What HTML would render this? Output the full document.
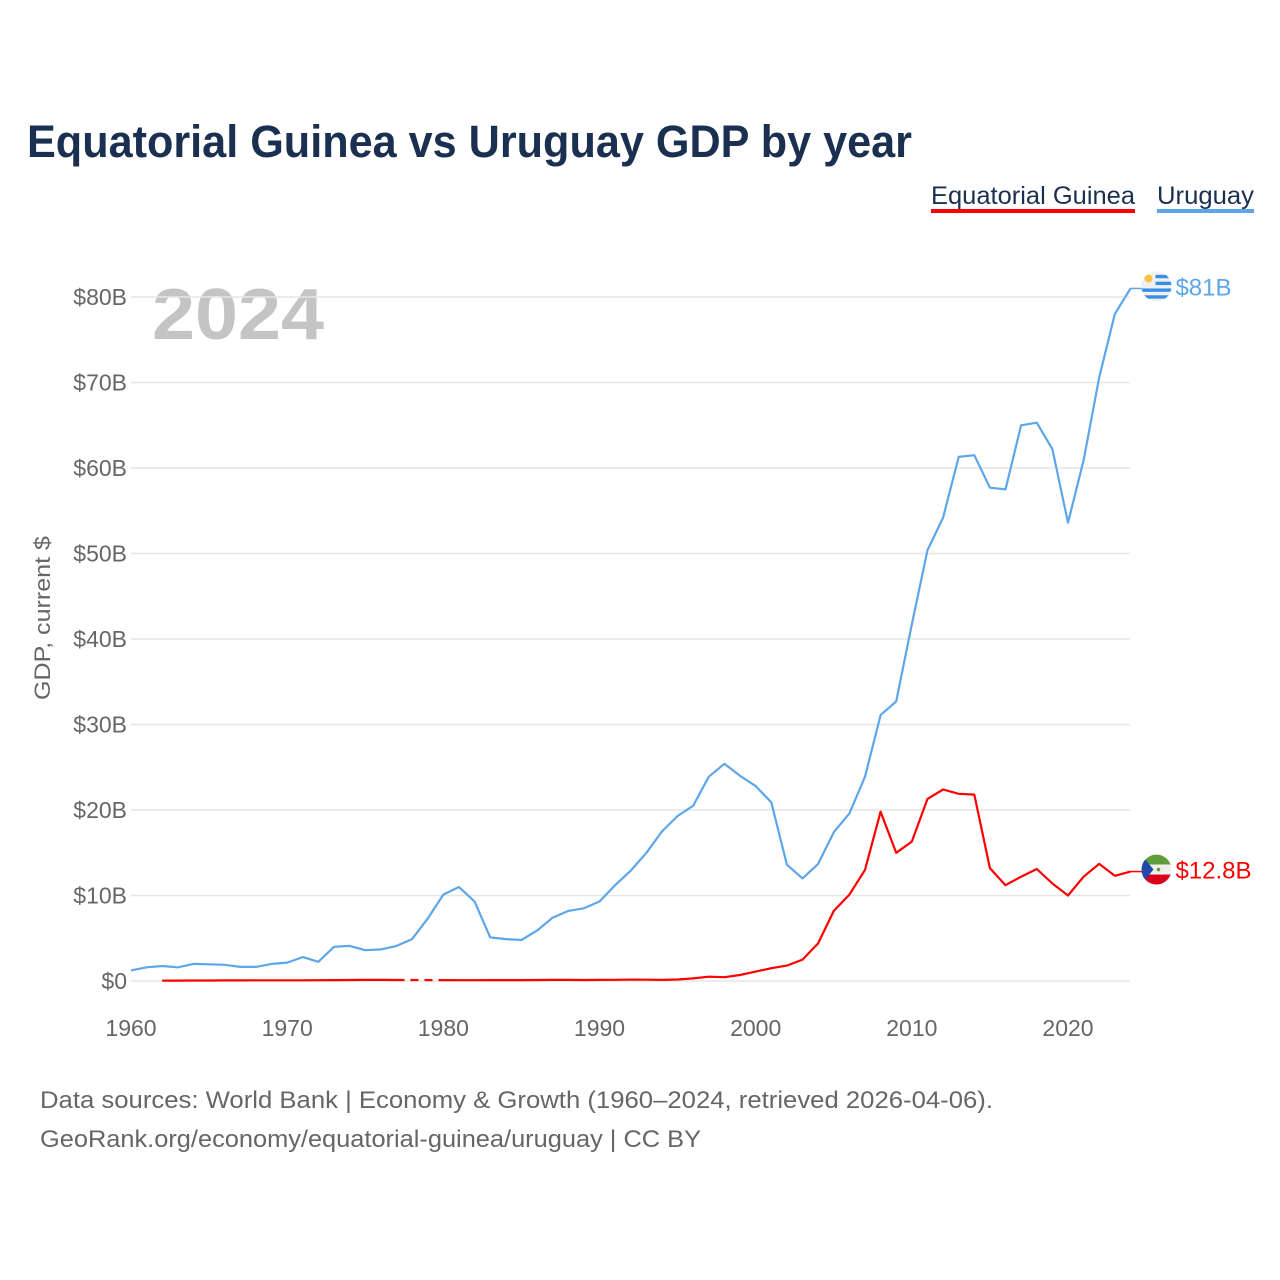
<!DOCTYPE html>
<html><head><meta charset="utf-8"><style>
body{margin:0;background:#fff;font-family:"Liberation Sans",sans-serif;}
#wrap{position:relative;width:1280px;height:1280px;overflow:hidden;}
</style></head><body>
<div id="wrap">
<svg id="chart" width="1280" height="1280" style="position:absolute;left:0;top:0">
<text x="27" y="157" font-size="45" font-weight="bold" fill="#1b3050" textLength="885" lengthAdjust="spacingAndGlyphs">Equatorial Guinea vs Uruguay GDP by year</text>
<g>
<text x="931" y="204" font-size="25" fill="#1b3050" textLength="204" lengthAdjust="spacingAndGlyphs">Equatorial Guinea</text>
<rect x="931" y="209" width="204" height="4" fill="#ff0000"/>
</g>
<g>
<text x="1157" y="204" font-size="25" fill="#1b3050" textLength="97" lengthAdjust="spacingAndGlyphs">Uruguay</text>
<rect x="1157" y="209" width="97" height="4" fill="#5ea6ea"/>
</g>
<text x="152" y="339" font-size="72" font-weight="bold" fill="#c4c4c4" textLength="172" lengthAdjust="spacingAndGlyphs">2024</text>
<text transform="translate(50,618) rotate(-90)" text-anchor="middle" font-size="22" fill="#666" textLength="164" lengthAdjust="spacingAndGlyphs">GDP, current $</text>
<g id="grid"></g><g id="lines"></g>
<text x="40" y="1108" font-size="24" fill="#666" textLength="953" lengthAdjust="spacingAndGlyphs">Data sources: World Bank | Economy &amp; Growth (1960–2024, retrieved 2026-04-06).</text>
<text x="40" y="1147" font-size="24" fill="#666" textLength="661" lengthAdjust="spacingAndGlyphs">GeoRank.org/economy/equatorial-guinea/uruguay | CC BY</text>
</svg>
</div>
<script>
const years=[];for(let y=1960;y<=2024;y++)years.push(y);
const uruguay=[1.24,1.6,1.75,1.6,2.0,1.95,1.9,1.65,1.65,2.0,2.15,2.8,2.25,4.0,4.1,3.6,3.7,4.1,4.9,7.3,10.1,11.0,9.3,5.1,4.9,4.8,5.9,7.4,8.2,8.5,9.3,11.2,12.9,15.0,17.5,19.3,20.5,23.9,25.4,24.0,22.8,20.9,13.6,12.0,13.7,17.4,19.6,23.9,31.1,32.7,41.7,50.4,54.2,61.3,61.5,57.7,57.5,65.0,65.3,62.2,53.6,60.9,70.6,78.0,81.0];
const eqGuinea=[null,null,0.05,0.05,0.06,0.06,0.07,0.07,0.08,0.08,0.08,0.08,0.09,0.1,0.12,0.13,0.13,0.12,null,null,0.1,0.09,0.09,0.1,0.1,0.1,0.12,0.13,0.13,0.12,0.13,0.14,0.16,0.15,0.13,0.17,0.3,0.5,0.45,0.7,1.1,1.5,1.8,2.5,4.4,8.2,10.1,13.0,19.8,15.0,16.3,21.3,22.4,21.9,21.8,13.2,11.2,12.2,13.1,11.4,10.0,12.2,13.7,12.3,12.8];
const yTicks=[0,10,20,30,40,50,60,70,80];
const xTicks=[1960,1970,1980,1990,2000,2010,2020];
const NS="http://www.w3.org/2000/svg";
const X=y=>131+(y-1960)*(1068-131)/60;
const Y=v=>981-v*(981-297)/80;
function mk(t,a,p){const e=document.createElementNS(NS,t);for(const k in a)e.setAttribute(k,a[k]);p.appendChild(e);return e;}
const grid=document.getElementById('grid'),lines=document.getElementById('lines');
yTicks.forEach(v=>{
 const l=mk('line',{x1:131,x2:1130,y1:Y(v),y2:Y(v),stroke:'#e6e6e6','stroke-width':1.5},grid);
 
 
 const t=mk('text',{x:127,y:Y(v)+8,'text-anchor':'end','font-size':23,fill:'#666'},grid);
 t.textContent='$'+v+(v?'B':'');
 
 
});
xTicks.forEach(v=>{
 const t=mk('text',{x:X(v),y:1036,'text-anchor':'middle','font-size':23,fill:'#666'},grid);
 t.textContent=v;
 
 
});
function series(vals,color,name){
 let d='',pen=false,prev=null;
 vals.forEach((v,i)=>{
  if(v==null){pen=false;return;}
  const p=X(years[i]).toFixed(1)+','+Y(v).toFixed(1);
  if(!pen&&prev!=null&&prev.i<i-1){
   const g=mk('line',{x1:X(years[prev.i]),y1:Y(prev.v),x2:X(years[i]),y2:Y(v),stroke:color,'stroke-width':2.2,'stroke-dasharray':'8,6'},lines);
   
   
  }
  d+=(pen?'L':'M')+p;pen=true;prev={i,v};
 });
 const path=mk('path',{d,fill:'none',stroke:color,'stroke-width':2.2,'stroke-linejoin':'round'},lines);
 
 
}
series(uruguay,'#5ea6ea','uruguay');
series(eqGuinea,'#ff0000','equatorial-guinea');
function endLabel(v,color,name,txt,flag,dy){
 const y=Y(v),x=X(2024),ly=y+dy;
 mk('line',{x1:x,x2:x+12,y1:y,y2:y,stroke:color,'stroke-width':1.5},lines);
 const g=mk('g',{},lines);
 
 
 const cid='c'+name;
 const cp=mk('clipPath',{id:cid},g);mk('circle',{cx:x+26,cy:ly,r:15},cp);
 const gg=mk('g',{'clip-path':'url(#'+cid+')'},g);
 flag(gg,x+11,ly-15);
 const t=mk('text',{x:x+45,y:ly+9,'font-size':24,fill:color},lines);
 t.textContent=txt;
 
 
}
endLabel(uruguay[64],'#5ea6ea','uruguay','$81B',(g,x,y)=>{
 mk('rect',{x,y,width:30,height:30,fill:'#f0f0f0'},g);
 for(let i=1;i<9;i+=2)mk('rect',{x,y:y+i*3.4,width:30,height:3.4,fill:'#3a8ee8'},g);
 mk('rect',{x,y,width:14,height:14,fill:'#f0f0f0'},g);
 mk('circle',{cx:x+7,cy:y+7,r:4,fill:'#f5c542'},g);
},-2);
endLabel(eqGuinea[64],'#ff0000','equatorial-guinea','$12.8B',(g,x,y)=>{
 mk('rect',{x,y,width:30,height:10,fill:'#5f9e3a'},g);
 mk('rect',{x,y:y+10,width:30,height:10,fill:'#f0f0f0'},g);
 mk('rect',{x,y:y+20,width:30,height:10,fill:'#d9001e'},g);
 mk('polygon',{points:`${x},${y} ${x+12},${y+15} ${x},${y+30}`,fill:'#1f4aa8'},g);
 mk('circle',{cx:x+17,cy:y+15,r:1.8,fill:'#5f9e3a'},g);
},-2);
</script>
</body></html>
